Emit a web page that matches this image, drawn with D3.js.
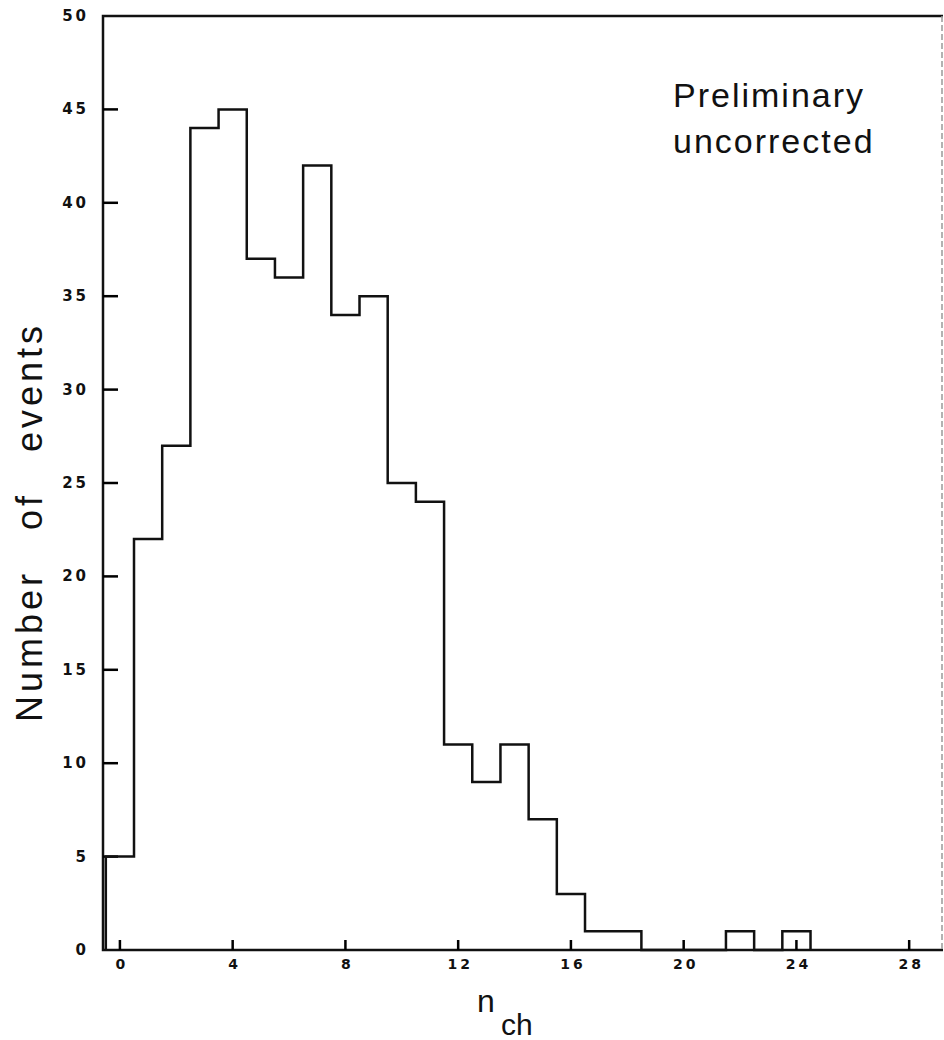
<!DOCTYPE html>
<html>
<head>
<meta charset="utf-8">
<script src="https://cdn.jsdelivr.net/npm/d3@7"></script>
<style>
  body { margin: 0; background: #fff; }
  svg text { fill: #111; }
</style>
</head>
<body>
<svg id="chart" width="944" height="1040"></svg>
<script>
// n_ch bins (centred on integers), counts
var nch = [0,1,2,3,4,5,6,7,8,9,10,11,12,13,14,15,16,17,18,19,20,21,22,23,24];
var counts = [5,22,27,44,45,37,36,42,34,35,25,24,11,9,11,7,3,1,1,0,0,0,1,0,1];
var xTicks = [0,4,8,12,16,20,24,28];
var yTicks = [0,5,10,15,20,25,30,35,40,45,50];

var svg = d3.select("#chart");

var x = d3.scaleLinear().domain([-0.6, 29.2]).range([103, 943]);
var y = d3.scaleLinear().domain([0, 50]).range([950, 16]);

var x0 = x(-0.6), x1 = x(29.2);

// frame: top, left and bottom solid, right edge faint
svg.append("path")
    .attr("d", "M" + x1 + "," + y(50) + "H" + x0 + "V" + y(0) + "H" + x1)
    .attr("fill", "none")
    .attr("stroke", "#111")
    .attr("stroke-width", 2.5);
svg.append("line")
    .attr("x1", x1 - 1).attr("x2", x1 - 1)
    .attr("y1", y(50)).attr("y2", y(0))
    .attr("stroke", "#999").attr("stroke-width", 1.5)
    .attr("stroke-dasharray", "6,3");

// inward ticks
svg.append("g").attr("class", "yticks").selectAll("rect")
  .data(yTicks.filter(function(d) { return d > 0 && d < 50; }))
  .enter().append("rect")
    .attr("x", x0)
    .attr("y", function(d) { return y(d) - 1.25; })
    .attr("width", 15).attr("height", 2.5)
    .attr("fill", "#000");

svg.append("g").attr("class", "xticks").selectAll("rect")
  .data(xTicks)
  .enter().append("rect")
    .attr("x", function(d) { return x(d) - 1.25; })
    .attr("y", y(0) - 10)
    .attr("width", 2.5).attr("height", 10)
    .attr("fill", "#000");

// tick labels
svg.append("g").selectAll("text")
  .data(yTicks)
  .enter().append("text")
    .attr("x", x0 - 14)
    .attr("y", function(d) { return y(d) + 5; })
    .attr("text-anchor", "end")
    .attr("font-family", "DejaVu Sans")
    .attr("font-weight", "bold")
    .attr("font-size", 15)
    .attr("letter-spacing", 3)
    .text(function(d) { return d; });

svg.append("g").selectAll("text")
  .data(xTicks)
  .enter().append("text")
    .attr("x", function(d) { return x(d) + 2; })
    .attr("y", y(0) + 19)
    .attr("text-anchor", "middle")
    .attr("font-family", "DejaVu Sans")
    .attr("font-weight", "bold")
    .attr("font-size", 14)
    .attr("letter-spacing", 3)
    .text(function(d) { return d; });

// histogram outline
var pts = nch.map(function(n, i) { return [n - 0.5, counts[i]]; });
pts.push([nch[nch.length - 1] + 0.5, counts[counts.length - 1]]);
pts.push([nch[nch.length - 1] + 0.5, 0]);
var line = d3.line()
    .x(function(d) { return x(d[0]); })
    .y(function(d) { return y(d[1]); })
    .curve(d3.curveStepAfter);
svg.append("path")
    .datum([[-0.5, 0]].concat(pts))
    .attr("d", line)
    .attr("fill", "none")
    .attr("stroke", "#111")
    .attr("stroke-width", 2.5);

// labels
svg.append("text")
    .attr("transform", "translate(42,522) rotate(-90)")
    .attr("text-anchor", "middle")
    .attr("font-family", "Liberation Sans")
    .attr("font-size", 36)
    .attr("letter-spacing", 4)
    .attr("word-spacing", 26)
    .text("Number of events");

var note = svg.append("text")
    .attr("font-family", "Liberation Sans")
    .attr("font-size", 34)
    .attr("letter-spacing", 2);
note.append("tspan").attr("x", 673).attr("y", 107).text("Preliminary");
note.append("tspan").attr("x", 673).attr("y", 153).text("uncorrected");

var xl = svg.append("text").attr("font-family", "Liberation Sans");
xl.append("tspan").attr("x", 477).attr("y", 1012).attr("font-size", 32).text("n");
xl.append("tspan").attr("x", 501).attr("y", 1035).attr("font-size", 30).text("ch");
</script>
</body>
</html>
